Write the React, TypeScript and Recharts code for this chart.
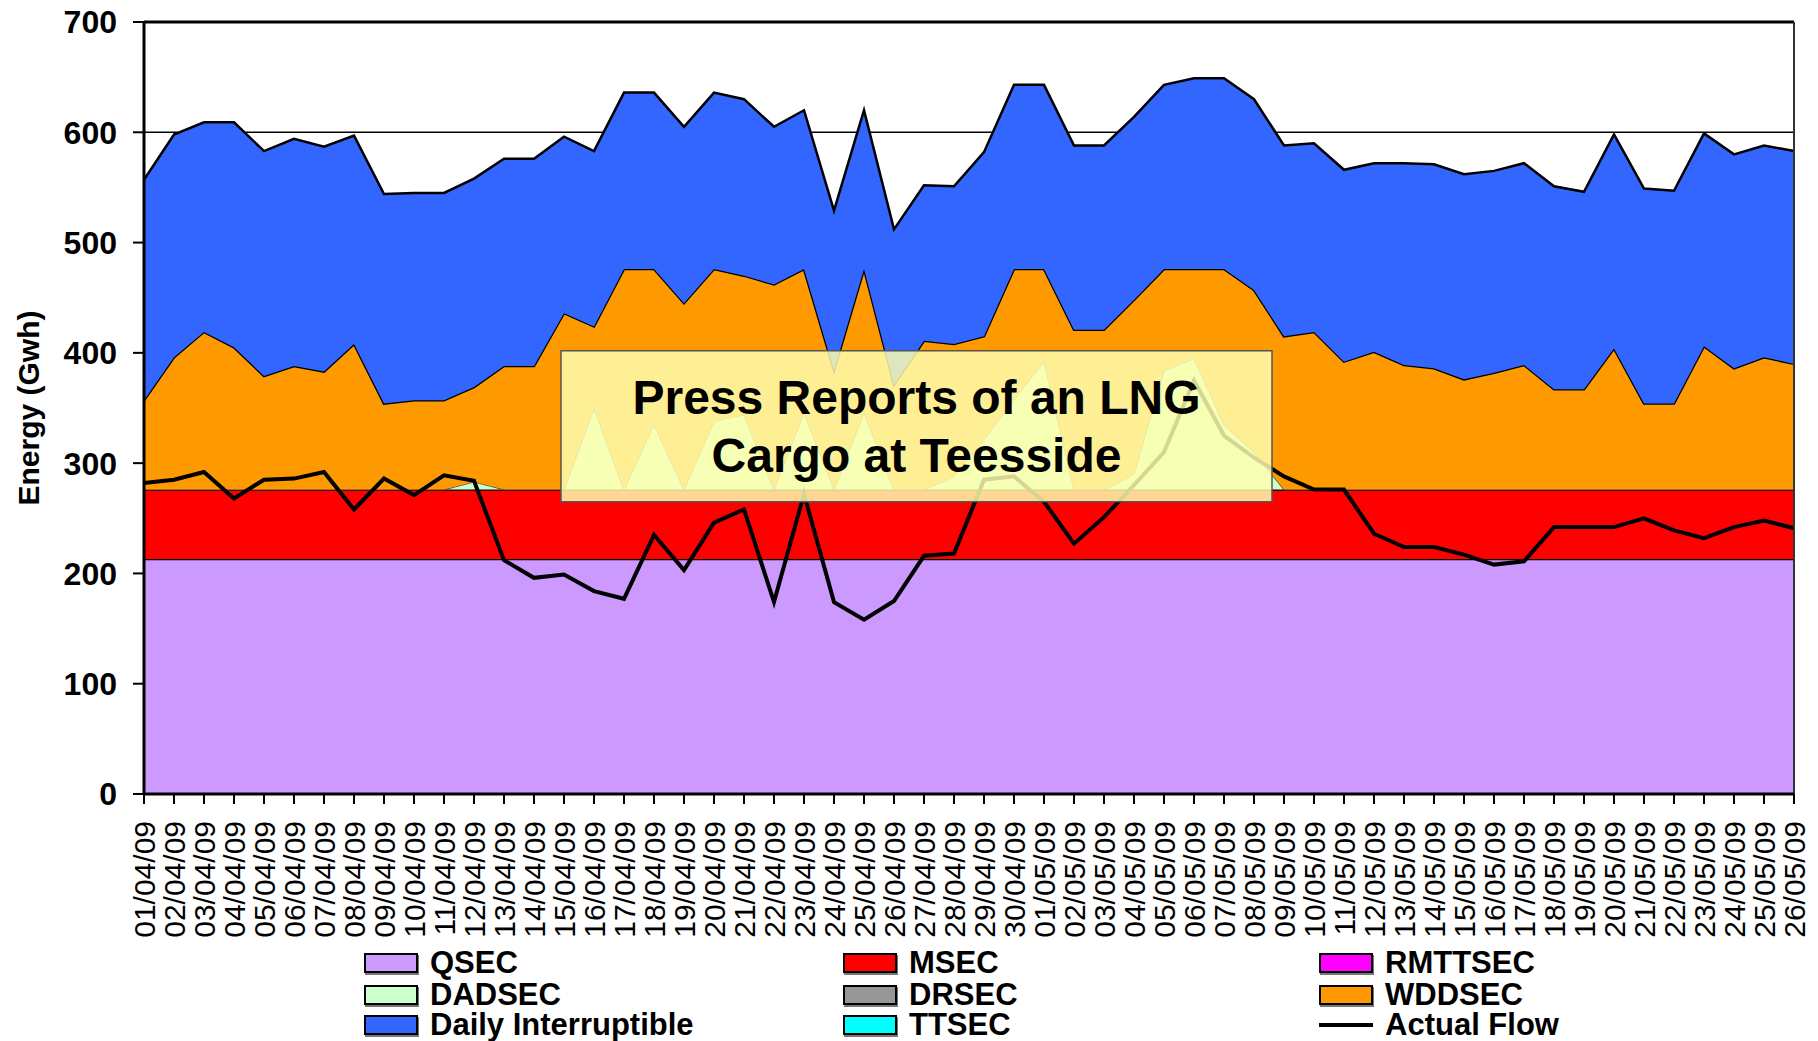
import {
  Area,
  CartesianGrid,
  ComposedChart,
  Label,
  Line,
  ReferenceArea,
  ReferenceLine,
  XAxis,
  YAxis,
} from "recharts";

const dates = [
  "01/04/09", "02/04/09", "03/04/09", "04/04/09", "05/04/09", "06/04/09", "07/04/09", "08/04/09",
  "09/04/09", "10/04/09", "11/04/09", "12/04/09", "13/04/09", "14/04/09", "15/04/09", "16/04/09",
  "17/04/09", "18/04/09", "19/04/09", "20/04/09", "21/04/09", "22/04/09", "23/04/09", "24/04/09",
  "25/04/09", "26/04/09", "27/04/09", "28/04/09", "29/04/09", "30/04/09", "01/05/09", "02/05/09",
  "03/05/09", "04/05/09", "05/05/09", "06/05/09", "07/05/09", "08/05/09", "09/05/09", "10/05/09",
  "11/05/09", "12/05/09", "13/05/09", "14/05/09", "15/05/09", "16/05/09", "17/05/09", "18/05/09",
  "19/05/09", "20/05/09", "21/05/09", "22/05/09", "23/05/09", "24/05/09", "25/05/09", "26/05/09",
];

const qsec = [
  213, 213, 213, 213, 213, 213, 213, 213, 213, 213, 213, 213, 213, 213,
  213, 213, 213, 213, 213, 213, 213, 213, 213, 213, 213, 213, 213, 213,
  213, 213, 213, 213, 213, 213, 213, 213, 213, 213, 213, 213, 213, 213,
  213, 213, 213, 213, 213, 213, 213, 213, 213, 213, 213, 213, 213, 213,
];
const msec = [
  63, 63, 63, 63, 63, 63, 63, 63, 63, 63, 63, 63, 63, 63,
  63, 63, 63, 63, 63, 63, 63, 63, 63, 63, 63, 63, 63, 63,
  63, 63, 63, 63, 63, 63, 63, 63, 63, 63, 63, 63, 63, 63,
  63, 63, 63, 63, 63, 63, 63, 63, 63, 63, 63, 63, 63, 63,
];
const rmttsec = [
  0, 0, 0, 0, 0, 0, 0, 0, 0, 0, 0, 0, 0, 0,
  0, 0, 0, 0, 0, 0, 0, 0, 0, 0, 0, 0, 0, 0,
  0, 0, 0, 0, 0, 0, 0, 0, 0, 0, 0, 0, 0, 0,
  0, 0, 0, 0, 0, 0, 0, 0, 0, 0, 0, 0, 0, 0,
];
const dadsec = [
  0, 0, 0, 0, 0, 0, 0, 0, 0, 0, 0, 7, 0, 0,
  0, 74, 0, 59, 0, 62, 68, 0, 70, 0, 70, 0, 0, 12,
  46, 82, 116, 0, 0, 14, 108, 119, 59, 34, 0, 0, 0, 0,
  0, 0, 0, 0, 0, 0, 0, 0, 0, 0, 0, 0, 0, 0,
];
const drsec = [
  0, 0, 0, 0, 0, 0, 0, 0, 0, 0, 0, 0, 0, 0,
  0, 0, 0, 0, 0, 0, 0, 0, 0, 0, 0, 0, 0, 0,
  0, 0, 0, 0, 0, 0, 0, 0, 0, 0, 0, 0, 0, 0,
  0, 0, 0, 0, 0, 0, 0, 0, 0, 0, 0, 0, 0, 0,
];
const wddsec = [
  81, 120, 143, 129, 103, 112, 107, 132, 78, 81,
  81, 86, 112, 112, 160, 74, 200, 141, 169, 138,
  126, 186, 130, 108, 130, 95, 135, 120, 93, 118,
  84, 145, 145, 158, 92, 81, 141, 147, 139, 143,
  116, 125, 113, 110, 100, 106, 113, 91, 91, 128,
  78, 78, 130, 110, 120, 114,
];
const dailyInterruptible = [
  200, 202, 190, 204, 204, 206, 204, 189, 190, 188,
  188, 189, 188, 188, 160, 159, 160, 160, 160, 160,
  160, 143, 144, 145, 144, 141, 141, 143, 167, 167,
  167, 167, 167, 166, 167, 173, 173, 173, 173, 171,
  174, 171, 183, 185, 186, 183, 183, 184, 179, 194,
  195, 193, 193, 194, 192, 193,
];
const ttsec = [
  0, 0, 0, 0, 0, 0, 0, 0, 0, 0, 0, 0, 0, 0,
  0, 0, 0, 0, 0, 0, 0, 0, 0, 0, 0, 0, 0, 0,
  0, 0, 0, 0, 0, 0, 0, 0, 0, 0, 0, 0, 0, 0,
  0, 0, 0, 0, 0, 0, 0, 0, 0, 0, 0, 0, 0, 0,
];
const actualFlow = [
  282, 285, 292, 268, 285, 286, 292, 258, 286, 271,
  289, 284, 212, 196, 199, 184, 177, 235, 203, 246,
  258, 174, 272, 174, 158, 175, 216, 218, 285, 288,
  265, 227, 251, 280, 310, 375, 325, 305, 288, 276,
  276, 236, 224, 224, 217, 208, 211, 242, 242, 242,
  250, 239, 232, 242, 248, 241,
];

const yTicks = [0, 100, 200, 300, 400, 500, 600, 700];

const data = dates.map((d, i) => ({
  i,
  date: d,
  qsec: qsec[i],
  msec: msec[i],
  rmttsec: rmttsec[i],
  dadsec: dadsec[i],
  drsec: drsec[i],
  wddsec: wddsec[i],
  daily: dailyInterruptible[i],
  ttsec: ttsec[i],
  flow: actualFlow[i],
}));

const FONT = '"Liberation Sans", Arial, sans-serif';

const areas = [
  { key: "qsec", name: "QSEC", color: "#CC99FF", stroke: "#000", w: 2.5 },
  { key: "msec", name: "MSEC", color: "#FF0000", stroke: "#000", w: 2.5 },
  { key: "rmttsec", name: "RMTTSEC", color: "#FF00FF", stroke: "none", w: 0 },
  { key: "dadsec", name: "DADSEC", color: "#CCFFCC", stroke: "#444", w: 1.2 },
  { key: "drsec", name: "DRSEC", color: "#969696", stroke: "none", w: 0 },
  { key: "wddsec", name: "WDDSEC", color: "#FF9900", stroke: "#000", w: 2.5 },
  { key: "daily", name: "Daily Interruptible", color: "#3366FF", stroke: "#000", w: 2.5 },
  { key: "ttsec", name: "TTSEC", color: "#00FFFF", stroke: "none", w: 0 },
];

const legendRows = [
  ["QSEC", "MSEC", "RMTTSEC"],
  ["DADSEC", "DRSEC", "WDDSEC"],
  ["Daily Interruptible", "TTSEC", "Actual Flow"],
];

function DateTick(props: any) {
  const { x, y, payload } = props;
  return (
    <text
      x={x}
      y={y}
      transform={`rotate(-90 ${x} ${y})`}
      textAnchor="end"
      dominantBaseline="central"
      fontSize={30}
      fontFamily={FONT}
      fill="#000"
    >
      {dates[payload.value]}
    </text>
  );
}

function BoxLabel(props: any) {
  const { viewBox } = props;
  const cx = viewBox.x + viewBox.width / 2;
  const cy = viewBox.y + viewBox.height / 2;
  const style = { fontSize: 48, fontWeight: 700, fontFamily: FONT } as const;
  return (
    <g>
      <text x={cx} y={cy - 29} textAnchor="middle" dominantBaseline="central" fill="#000" style={style}>
        Press Reports of an LNG
      </text>
      <text x={cx} y={cy + 29} textAnchor="middle" dominantBaseline="central" fill="#000" style={style}>
        Cargo at Teesside
      </text>
    </g>
  );
}

function YTitle(props: any) {
  const { viewBox } = props;
  const cy = viewBox.y + viewBox.height / 2;
  return (
    <text
      x={28}
      y={cy}
      transform={`rotate(-90 28 ${cy})`}
      textAnchor="middle"
      dominantBaseline="central"
      fontSize={30}
      fontWeight={700}
      fontFamily={FONT}
      fill="#000"
    >
      Energy (Gwh)
    </text>
  );
}

function LegendItem({ name }: { name: string }) {
  const a = areas.find((s) => s.name === name);
  return (
    <div style={{ display: "flex", alignItems: "center", height: 30 }}>
      {a ? (
        <div
          style={{
            width: 50,
            height: 16,
            background: a.color,
            border: "2px solid #000",
            boxShadow: "1px 2px 0 #777",
          }}
        />
      ) : (
        <div style={{ width: 54, height: 4, background: "#000" }} />
      )}
      <span style={{ marginLeft: 12, fontSize: 31, fontWeight: 700, lineHeight: "30px" }}>{name}</span>
    </div>
  );
}

export default function App() {
  const cols = [364, 843, 1319];
  const rowTops = [948, 980, 1010];
  return (
    <div
      style={{
        position: "absolute",
        left: 0,
        top: 0,
        width: 1818,
        height: 1041,
        overflow: "hidden",
        background: "#fff",
        fontFamily: FONT,
      }}
    >
      <ComposedChart
        width={1818}
        height={1041}
        data={data}
        margin={{ top: 22, right: 24, bottom: 0, left: 0 }}
      >
        <CartesianGrid vertical={false} stroke="#000" strokeWidth={1.5} />
        <XAxis
          dataKey="i"
          type="number"
          domain={[0, 55]}
          ticks={data.map((d) => d.i)}
          interval={0}
          height={247}
          tickSize={10}
          tickMargin={17}
          tick={<DateTick />}
          axisLine={{ stroke: "#000", strokeWidth: 3 }}
          tickLine={{ stroke: "#000", strokeWidth: 2 }}
        />
        <YAxis
          type="number"
          domain={[0, 700]}
          ticks={yTicks}
          width={144}
          tickSize={11}
          tickMargin={16}
          axisLine={{ stroke: "#000", strokeWidth: 3 }}
          tickLine={{ stroke: "#000", strokeWidth: 2 }}
          tick={{ fill: "#000", fontSize: 32, fontWeight: 700, fontFamily: FONT }}
        >
          <Label content={<YTitle />} />
        </YAxis>
        {areas.map((a) => (
          <Area
            key={a.key}
            type="linear"
            dataKey={a.key}
            name={a.name}
            stackId="s"
            fill={a.color}
            fillOpacity={1}
            stroke={a.stroke}
            strokeWidth={a.w}
            dot={false}
            activeDot={false}
            isAnimationActive={false}
          />
        ))}
        <Line
          type="linear"
          dataKey="flow"
          name="Actual Flow"
          stroke="#000"
          strokeWidth={4}
          dot={false}
          activeDot={false}
          isAnimationActive={false}
        />
        <ReferenceLine y={700} stroke="#000" strokeWidth={3} />
        <ReferenceLine x={55} stroke="#333" strokeWidth={2} />
        <ReferenceArea
          x1={13.9}
          x2={37.6}
          y1={265}
          y2={402}
          fill="#FFFFB0"
          fillOpacity={0.84}
          stroke="#555"
          strokeWidth={1.5}
          ifOverflow="visible"
          zIndex={1500}
        >
          <Label content={<BoxLabel />} />
        </ReferenceArea>
      </ComposedChart>
      {legendRows.map((row, r) =>
        row.map((name, c) => (
          <div key={name} style={{ position: "absolute", left: cols[c], top: rowTops[r] }}>
            <LegendItem name={name} />
          </div>
        ))
      )}
    </div>
  );
}
